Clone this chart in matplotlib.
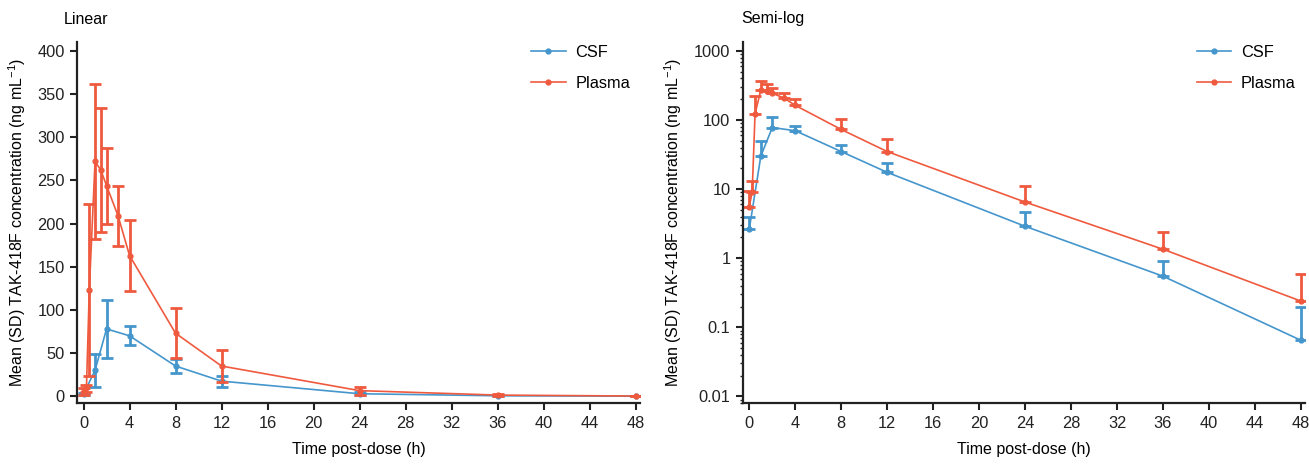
import numpy as np
import matplotlib
matplotlib.use("Agg")
import matplotlib.pyplot as plt
from matplotlib.ticker import FuncFormatter, LogLocator, NullFormatter

plt.rcParams["font.family"] = ["Liberation Sans", "DejaVu Sans"]
plt.rcParams["mathtext.fontset"] = "custom"
plt.rcParams["mathtext.rm"] = "Liberation Sans"
plt.rcParams["mathtext.it"] = "Liberation Sans:italic"

# Plasma: time (h), mean and SD (ng/mL)
plasma_t = [0, 0.25, 0.5, 1, 1.5, 2, 3, 4, 8, 12, 24, 36, 48]
plasma_mean = [5.6, 9.1, 123, 272, 262, 244, 209, 163, 73, 35, 6.5, 1.35, 0.24]
plasma_sd = [3.7, 4.0, 100, 90, 72, 44, 35, 41, 29, 19, 4.6, 1.05, 0.36]

# CSF: time (h), mean and SD (ng/mL)
csf_t = [0, 1, 2, 4, 8, 12, 24, 36, 48]
csf_mean = [2.65, 30, 78, 70, 35, 17.5, 2.9, 0.55, 0.065]
csf_sd = [1.25, 19, 34, 11, 8.5, 6.5, 1.8, 0.36, 0.135]

x_ticks = list(range(0, 49, 4))
lin_ticks = [0, 50, 100, 150, 200, 250, 300, 350, 400]
log_ticks = [0.01, 0.1, 1, 10, 100, 1000]

color_csf = "#4596CC"
color_plasma = "#EF5A3F"
ylabel = r"Mean (SD) TAK-418F concentration (ng mL$^{-1}$)"

fig = plt.figure(figsize=(13.09, 4.65), dpi=100)
ax1 = fig.add_axes([0.059, 0.133, 0.430, 0.776])
ax2 = fig.add_axes([0.5676, 0.133, 0.4297, 0.776])

series = [
    ("CSF", csf_t, csf_mean, csf_sd, color_csf),
    ("Plasma", plasma_t, plasma_mean, plasma_sd, color_plasma),
]

for ax, is_log in [(ax1, False), (ax2, True)]:
    for name, t, m, sd, c in series:
        m = np.array(m)
        sd = np.array(sd)
        if is_log:
            yerr = [np.zeros_like(sd), sd]
        else:
            yerr = sd
        ax.errorbar(t, m, yerr=yerr, fmt="none", ecolor=c, elinewidth=2,
                    capsize=4, capthick=2)
        ax.plot(t, m, color=c, linewidth=1.2, marker="o", markersize=3.5,
                label=name)

    ax.set_xlim(-0.55, 48.4)
    ax.set_xticks(x_ticks)
    ax.set_xlabel("Time post-dose (h)", fontsize=11.5, labelpad=8)
    ax.set_ylabel(ylabel, fontsize=11.5, labelpad=7)
    for s in ["top", "right"]:
        ax.spines[s].set_visible(False)
    for s in ["left", "bottom"]:
        ax.spines[s].set_linewidth(1.6)
        ax.spines[s].set_color("#222222")
    ax.tick_params(axis="both", which="major", length=5, width=1.5,
                   labelsize=11.8, colors="#222222", pad=4)
    ax.legend(loc="upper right", frameon=False, fontsize=11.8,
              handlelength=2.1, handletextpad=0.6, numpoints=1,
              borderaxespad=0.2, labelspacing=0.95,
              bbox_to_anchor=(1.0, 1.02))

ax1.set_ylim(-8, 410)
ax1.set_yticks(lin_ticks)

ax2.set_yscale("log")
ax2.set_ylim(0.008, 1333)
ax2.set_yticks(log_ticks)
ax2.yaxis.set_major_formatter(FuncFormatter(lambda v, p: f"{v:g}"))
ax2.yaxis.set_minor_locator(LogLocator(base=10, subs=np.arange(2, 10), numticks=20))
ax2.yaxis.set_minor_formatter(NullFormatter())
ax2.tick_params(axis="y", which="minor", length=2.5, width=1.0, colors="#222222")

fig.text(64 / 1309, 1 - 19 / 465, "Linear", fontsize=11.5, va="center", ha="left")
fig.text(741 / 1309, 1 - 19 / 465, "Semi-log", fontsize=11.5, va="center", ha="left")

fig.savefig("out.png", dpi=100)
